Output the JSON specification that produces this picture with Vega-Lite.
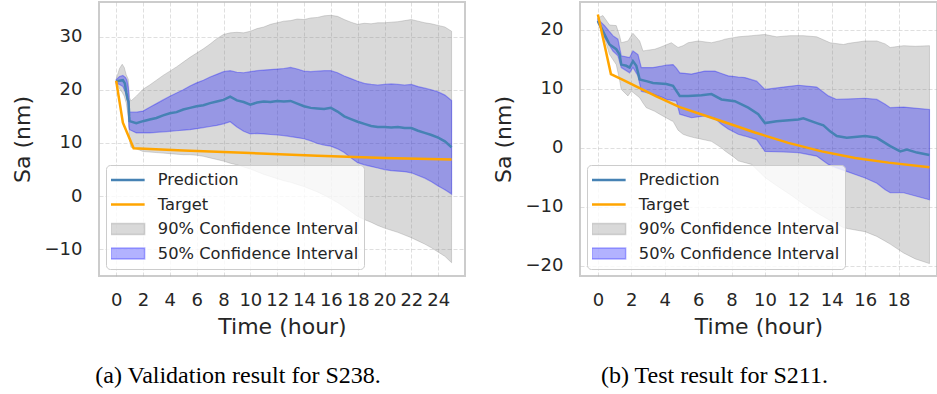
{
  "$schema": "https://vega.github.io/schema/vega-lite/v6.json",
  "background": "white",
  "padding": {"left": 10, "top": 1, "right": 0, "bottom": 0},
  "spacing": 25,
  "config": {
    "font": "DejaVu Sans",
    "view": {"stroke": "#cccccc", "strokeWidth": 2},
    "axis": {"grid": true, "gridColor": "#b0b0b0", "gridOpacity": 0.5, "gridDash": [4, 2], "gridWidth": 0.8, "domain": false, "ticks": false, "tickSize": 0, "labelFontSize": 18, "labelColor": "#262626", "labelFont": "DejaVu Sans", "titleFont": "DejaVu Sans", "titleFontSize": 22, "titleFontWeight": "normal", "titleColor": "#262626", "labelOverlap": false, "labelFlush": false, "labelBound": false, "zindex": 1},
    "axisX": {"labelPadding": 15, "titlePadding": 7},
    "axisY": {"labelPadding": 17, "titlePadding": 10},
    "legend": {"orient": "bottom-left", "offset": 7, "labelFontSize": 16.3, "labelLimit": 0, "labelColor": "#262626", "labelFont": "DejaVu Sans", "fillColor": "rgba(255,255,255,0.8)", "strokeColor": "#cccccc", "cornerRadius": 4, "padding": 5, "rowPadding": 4.5, "clipHeight": 20, "symbolSize": 1156, "labelOffset": 22, "symbolOffset": 8.5, "zindex": 2},
    "title": {"font": "Liberation Serif", "fontSize": 24, "fontWeight": "normal", "color": "#000000", "orient": "bottom", "anchor": "middle", "frame": "bounds", "offset": 27}
  },
  "datasets": {
    "a90": [
      {"t":0,"lo":21.3,"hi":22.0},{"t":0.25,"lo":20.2,"hi":24.0},{"t":0.45,"lo":19.5,"hi":24.8},{"t":0.6,"lo":18.8,"hi":24.2},{"t":0.75,"lo":17.5,"hi":22.8},{"t":0.9,"lo":15.0,"hi":22.0},{"t":1.0,"lo":10.5,"hi":18.5},{"t":1.1,"lo":9.2,"hi":17.9},{"t":1.5,"lo":8.9,"hi":18.8},{"t":2,"lo":8.4,"hi":20.1},{"t":2.5,"lo":8.3,"hi":20.9},{"t":3,"lo":8.2,"hi":21.8},{"t":3.5,"lo":8.1,"hi":22.7},{"t":4,"lo":8.0,"hi":23.5},{"t":4.5,"lo":7.9,"hi":24.3},{"t":5,"lo":7.8,"hi":25.2},{"t":5.5,"lo":7.8,"hi":26.1},{"t":6,"lo":7.7,"hi":26.9},{"t":6.5,"lo":7.5,"hi":27.7},{"t":7,"lo":7.2,"hi":28.6},{"t":7.5,"lo":6.9,"hi":29.6},{"t":8,"lo":6.6,"hi":30.4},{"t":8.5,"lo":6.2,"hi":30.7},{"t":9,"lo":5.9,"hi":30.8},{"t":9.5,"lo":5.5,"hi":30.7},{"t":10,"lo":5.1,"hi":31.0},{"t":10.5,"lo":4.6,"hi":31.5},{"t":11,"lo":4.1,"hi":31.8},{"t":11.5,"lo":3.7,"hi":32.3},{"t":12,"lo":3.3,"hi":32.6},{"t":12.5,"lo":2.9,"hi":32.9},{"t":13,"lo":2.6,"hi":33.0},{"t":13.5,"lo":2.2,"hi":33.3},{"t":14,"lo":1.8,"hi":33.2},{"t":14.5,"lo":1.3,"hi":33.5},{"t":15,"lo":0.8,"hi":33.6},{"t":15.5,"lo":0.2,"hi":33.9},{"t":16,"lo":-0.5,"hi":34.0},{"t":16.5,"lo":-1.2,"hi":33.8},{"t":17,"lo":-2.0,"hi":33.2},{"t":17.5,"lo":-2.9,"hi":32.7},{"t":18,"lo":-3.8,"hi":32.3},{"t":18.5,"lo":-4.4,"hi":32.5},{"t":19,"lo":-4.9,"hi":32.4},{"t":19.5,"lo":-5.5,"hi":32.6},{"t":20,"lo":-6.0,"hi":32.6},{"t":20.5,"lo":-6.4,"hi":32.7},{"t":21,"lo":-6.8,"hi":32.8},{"t":21.5,"lo":-7.3,"hi":33.0},{"t":22,"lo":-7.8,"hi":33.2},{"t":22.5,"lo":-8.4,"hi":32.9},{"t":23,"lo":-9.0,"hi":32.6},{"t":23.5,"lo":-9.7,"hi":32.4},{"t":24,"lo":-10.5,"hi":32.1},{"t":24.5,"lo":-11.3,"hi":31.8},{"t":25,"lo":-12.5,"hi":31.0}
    ],
    "a50": [
      {"t":0,"lo":21.2,"hi":21.9},{"t":0.25,"lo":21.0,"hi":22.5},{"t":0.5,"lo":20.6,"hi":22.7},{"t":0.7,"lo":19.5,"hi":22.3},{"t":0.8,"lo":18.5,"hi":21.8},{"t":0.9,"lo":17.0,"hi":20.5},{"t":0.95,"lo":13.0,"hi":19.0},{"t":1.0,"lo":12.5,"hi":15.8},{"t":1.5,"lo":11.9,"hi":15.8},{"t":2,"lo":11.9,"hi":16.0},{"t":2.5,"lo":11.9,"hi":16.7},{"t":3,"lo":12.0,"hi":17.4},{"t":3.5,"lo":12.1,"hi":18.1},{"t":4,"lo":12.2,"hi":18.8},{"t":4.5,"lo":12.3,"hi":19.4},{"t":5,"lo":12.4,"hi":20.0},{"t":5.5,"lo":12.5,"hi":20.7},{"t":6,"lo":12.7,"hi":21.3},{"t":6.5,"lo":12.9,"hi":21.8},{"t":7,"lo":13.1,"hi":22.4},{"t":7.5,"lo":13.3,"hi":22.9},{"t":8,"lo":13.6,"hi":23.4},{"t":8.5,"lo":14.0,"hi":23.6},{"t":9,"lo":13.0,"hi":23.3},{"t":9.5,"lo":12.2,"hi":23.2},{"t":10,"lo":11.7,"hi":23.4},{"t":10.5,"lo":11.8,"hi":23.6},{"t":11,"lo":11.7,"hi":23.7},{"t":11.5,"lo":11.6,"hi":23.8},{"t":12,"lo":11.5,"hi":23.9},{"t":12.5,"lo":11.4,"hi":24.0},{"t":13,"lo":11.2,"hi":24.2},{"t":13.5,"lo":11.0,"hi":23.9},{"t":14,"lo":10.8,"hi":23.5},{"t":14.5,"lo":10.4,"hi":23.4},{"t":15,"lo":9.9,"hi":23.5},{"t":15.5,"lo":9.6,"hi":23.6},{"t":16,"lo":9.4,"hi":23.6},{"t":16.5,"lo":8.9,"hi":23.2},{"t":17,"lo":8.2,"hi":22.6},{"t":17.5,"lo":7.2,"hi":22.1},{"t":18,"lo":6.3,"hi":21.6},{"t":18.5,"lo":5.9,"hi":21.2},{"t":19,"lo":5.6,"hi":21.0},{"t":19.5,"lo":5.3,"hi":20.9},{"t":20,"lo":5.0,"hi":21.0},{"t":20.5,"lo":4.8,"hi":21.1},{"t":21,"lo":4.7,"hi":21.0},{"t":21.5,"lo":4.6,"hi":20.9},{"t":22,"lo":4.4,"hi":21.0},{"t":22.5,"lo":3.9,"hi":20.6},{"t":23,"lo":3.4,"hi":20.3},{"t":23.5,"lo":2.7,"hi":20.0},{"t":24,"lo":1.9,"hi":19.6},{"t":24.5,"lo":1.2,"hi":19.0},{"t":25,"lo":0.4,"hi":18.0}
    ],
    "apred": [
      {"t":0,"y":21.6},{"t":0.25,"y":21.7},{"t":0.5,"y":21.8},{"t":0.65,"y":21.2},{"t":0.75,"y":19.5},{"t":0.85,"y":18.2},{"t":0.92,"y":17.8},{"t":0.97,"y":15.0},{"t":1.0,"y":14.1},{"t":1.5,"y":13.7},{"t":2,"y":14.1},{"t":2.5,"y":14.4},{"t":3,"y":14.7},{"t":3.5,"y":15.2},{"t":4,"y":15.6},{"t":4.5,"y":15.8},{"t":5,"y":16.3},{"t":5.5,"y":16.6},{"t":6,"y":16.9},{"t":6.5,"y":17.1},{"t":7,"y":17.5},{"t":7.5,"y":17.8},{"t":8,"y":18.1},{"t":8.5,"y":18.7},{"t":9,"y":18.0},{"t":9.5,"y":17.7},{"t":10,"y":17.2},{"t":10.5,"y":17.6},{"t":11,"y":17.8},{"t":11.5,"y":17.7},{"t":12,"y":17.9},{"t":12.5,"y":17.8},{"t":13,"y":17.9},{"t":13.5,"y":17.4},{"t":14,"y":16.9},{"t":14.5,"y":16.6},{"t":15,"y":16.5},{"t":15.5,"y":16.4},{"t":16,"y":16.6},{"t":16.5,"y":15.9},{"t":17,"y":15.0},{"t":17.5,"y":14.5},{"t":18,"y":14.0},{"t":18.5,"y":13.6},{"t":19,"y":13.2},{"t":19.5,"y":13.0},{"t":20,"y":13.0},{"t":20.5,"y":12.9},{"t":21,"y":13.0},{"t":21.5,"y":12.8},{"t":22,"y":12.8},{"t":22.5,"y":12.3},{"t":23,"y":11.9},{"t":23.5,"y":11.5},{"t":24,"y":11.0},{"t":24.5,"y":10.3},{"t":25,"y":9.2}
    ],
    "atgt": [
      {"t":0,"y":21.7},{"t":0.5,"y":13.8},{"t":1.3,"y":9.0},{"t":5,"y":8.6},{"t":10,"y":8.1},{"t":15,"y":7.6},{"t":20,"y":7.2},{"t":25,"y":6.9}
    ],
    "b90": [
      {"t":0,"lo":21.0,"hi":22.0},{"t":0.3,"lo":19.5,"hi":22.4},{"t":0.7,"lo":15.8,"hi":20.8},{"t":1.1,"lo":14.1,"hi":20.7},{"t":1.3,"lo":11.5,"hi":19.0},{"t":1.4,"lo":9.9,"hi":17.8},{"t":1.8,"lo":8.8,"hi":18.1},{"t":2.0,"lo":9.6,"hi":19.0},{"t":2.1,"lo":9.4,"hi":19.4},{"t":2.5,"lo":8.5,"hi":18.1},{"t":2.7,"lo":7.6,"hi":16.4},{"t":2.9,"lo":6.8,"hi":16.5},{"t":3.4,"lo":6.2,"hi":16.7},{"t":3.7,"lo":5.7,"hi":17.0},{"t":4.4,"lo":4.6,"hi":17.8},{"t":4.5,"lo":4.5,"hi":17.6},{"t":4.8,"lo":3.0,"hi":17.0},{"t":5.1,"lo":2.3,"hi":17.3},{"t":5.4,"lo":2.0,"hi":17.8},{"t":5.8,"lo":1.7,"hi":18.0},{"t":6,"lo":1.6,"hi":18.1},{"t":6.8,"lo":1.1,"hi":17.8},{"t":7.4,"lo":0.0,"hi":18.2},{"t":7.6,"lo":-0.5,"hi":18.4},{"t":8.2,"lo":-1.7,"hi":18.7},{"t":8.4,"lo":-2.2,"hi":18.8},{"t":9.2,"lo":-2.8,"hi":19.0},{"t":10,"lo":-5.0,"hi":19.2},{"t":10.7,"lo":-6.4,"hi":18.8},{"t":11.5,"lo":-7.9,"hi":19.0},{"t":12.3,"lo":-9.5,"hi":19.0},{"t":13.1,"lo":-11.0,"hi":18.8},{"t":13.9,"lo":-12.3,"hi":17.8},{"t":14.7,"lo":-13.5,"hi":17.5},{"t":15,"lo":-13.7,"hi":17.7},{"t":16,"lo":-14.2,"hi":18.1},{"t":16.7,"lo":-15.0,"hi":18.1},{"t":17.2,"lo":-15.8,"hi":17.6},{"t":17.5,"lo":-16.3,"hi":17.0},{"t":18.3,"lo":-17.8,"hi":17.3},{"t":19,"lo":-18.8,"hi":17.2},{"t":19.85,"lo":-19.6,"hi":17.3}
    ],
    "b50": [
      {"t":0,"lo":21.3,"hi":21.8},{"t":0.4,"lo":18.7,"hi":20.7},{"t":0.9,"lo":16.4,"hi":19.0},{"t":1.2,"lo":15.6,"hi":18.4},{"t":1.4,"lo":13.6,"hi":15.6},{"t":1.9,"lo":12.7,"hi":15.3},{"t":2.1,"lo":13.6,"hi":16.4},{"t":2.4,"lo":12.2,"hi":15.8},{"t":2.6,"lo":9.6,"hi":13.6},{"t":3.3,"lo":9.1,"hi":13.6},{"t":3.9,"lo":8.5,"hi":13.9},{"t":4.1,"lo":8.2,"hi":14.0},{"t":4.5,"lo":8.0,"hi":14.1},{"t":4.7,"lo":7.9,"hi":13.5},{"t":4.9,"lo":5.7,"hi":12.7},{"t":5.6,"lo":5.1,"hi":12.5},{"t":6.4,"lo":5.4,"hi":13.0},{"t":7.0,"lo":5.0,"hi":13.0},{"t":7.4,"lo":4.0,"hi":12.6},{"t":7.8,"lo":3.2,"hi":12.2},{"t":8.4,"lo":2.3,"hi":12.0},{"t":8.8,"lo":2.0,"hi":11.9},{"t":9.5,"lo":1.4,"hi":11.3},{"t":10,"lo":-0.6,"hi":9.9},{"t":11.1,"lo":-0.7,"hi":10.3},{"t":12,"lo":-0.8,"hi":10.6},{"t":13.1,"lo":-1.4,"hi":10.3},{"t":13.8,"lo":-2.8,"hi":8.8},{"t":14.3,"lo":-3.4,"hi":8.2},{"t":16,"lo":-5.1,"hi":8.4},{"t":16.7,"lo":-6.0,"hi":8.2},{"t":17.2,"lo":-7.1,"hi":7.4},{"t":17.5,"lo":-7.6,"hi":6.8},{"t":18.3,"lo":-7.6,"hi":6.9},{"t":19.85,"lo":-8.8,"hi":6.5}
    ],
    "bpred": [
      {"t":0,"y":21.5},{"t":0.4,"y":19.2},{"t":0.7,"y":17.5},{"t":1.1,"y":16.7},{"t":1.3,"y":15.8},{"t":1.4,"y":14.1},{"t":1.7,"y":13.9},{"t":1.9,"y":13.6},{"t":2.1,"y":14.7},{"t":2.3,"y":13.9},{"t":2.5,"y":11.6},{"t":2.9,"y":11.3},{"t":3.3,"y":11.0},{"t":4.1,"y":10.8},{"t":4.5,"y":10.5},{"t":4.9,"y":8.8},{"t":5.4,"y":8.8},{"t":6.2,"y":8.9},{"t":6.8,"y":9.1},{"t":7.4,"y":8.2},{"t":8.2,"y":7.9},{"t":9.0,"y":6.8},{"t":9.6,"y":5.7},{"t":10,"y":4.2},{"t":10.7,"y":4.5},{"t":12,"y":4.8},{"t":12.3,"y":5.0},{"t":13.1,"y":4.2},{"t":13.5,"y":3.8},{"t":13.9,"y":2.8},{"t":14.3,"y":2.0},{"t":14.9,"y":1.7},{"t":16,"y":2.0},{"t":16.7,"y":1.7},{"t":17.5,"y":0.3},{"t":18.1,"y":-0.6},{"t":18.5,"y":-0.3},{"t":19.1,"y":-0.8},{"t":19.85,"y":-1.2}
    ],
    "btgt": [
      {"t":0,"y":22.6},{"t":0.78,"y":12.5},{"t":1.5,"y":11.5},{"t":2.5,"y":10.1},{"t":3.5,"y":8.7},{"t":4.9,"y":6.9},{"t":6.8,"y":5.1},{"t":8,"y":3.95},{"t":9.4,"y":2.6},{"t":11.4,"y":0.85},{"t":13.4,"y":-0.6},{"t":15.4,"y":-1.7},{"t":17.4,"y":-2.5},{"t":19.85,"y":-3.3}
    ]
  },
  "hconcat": [
    {
      "width": 366,
      "height": 274,
      "title": {"text": "(a) Validation result for S238."},
      "encoding": {
        "x": {"field": "t", "type": "quantitative", "scale": {"domain": [-1.28, 26.0], "nice": false, "zero": false}, "axis": {"title": "Time (hour)", "values": [0,2,4,6,8,10,12,14,16,18,20,22,24]}}
      },
      "layer": [
        {
          "data": {"name": "a90"},
          "mark": {"type": "area", "fillOpacity": 0.3, "stroke": "#808080", "strokeOpacity": 0.3, "strokeWidth": 1},
          "encoding": {
            "y": {"field": "lo", "type": "quantitative", "scale": {"domain": [-15, 36.5], "nice": false, "zero": false}, "axis": {"title": "Sa (nm)", "values": [-10,0,10,20,30]}},
            "y2": {"field": "hi"},
            "color": {"datum": "90% Confidence Interval", "type": "nominal",
              "scale": {"domain": ["Prediction", "Target", "90% Confidence Interval", "50% Confidence Interval"], "range": ["#4682b4", "#ffa500", "#808080", "#0000ff"]},
              "legend": {"title": null, "symbolSize": 1156, "labelOffset": 22, "symbolOffset": 8.5, "clipHeight": 20, "rowPadding": 4.5, "padding": 5, "encoding": {"symbols": {
                "shape": {"value": {"expr": "datum.value === 'Prediction' || datum.value === 'Target' ? 'stroke' : 'M-1,-0.32H1V0.32H-1Z'"}},
                "size": {"value": 1156},
                "fill": {"value": {"expr": "datum.value === '90% Confidence Interval' ? '#808080' : datum.value === '50% Confidence Interval' ? '#0000ff' : 'transparent'"}},
                "fillOpacity": {"value": {"expr": "datum.value === 'Prediction' || datum.value === 'Target' ? 0 : 0.3"}},
                "stroke": {"value": {"expr": "datum.value === 'Prediction' ? '#4682b4' : datum.value === 'Target' ? '#ffa500' : datum.value === '90% Confidence Interval' ? '#808080' : '#0000ff'"}},
                "strokeOpacity": {"value": {"expr": "datum.value === 'Prediction' || datum.value === 'Target' ? 1 : 0.3"}},
                "strokeWidth": {"value": {"expr": "datum.value === 'Prediction' || datum.value === 'Target' ? 2.5 : 1.5"}},
                "opacity": {"value": 1}
              }}}
            }
          }
        },
        {
          "data": {"name": "a50"},
          "mark": {"type": "area", "fillOpacity": 0.3, "stroke": "#0000ff", "strokeOpacity": 0.3, "strokeWidth": 1.2},
          "encoding": {
            "y": {"field": "lo", "type": "quantitative"},
            "y2": {"field": "hi"},
            "color": {"datum": "50% Confidence Interval", "type": "nominal"}
          }
        },
        {
          "data": {"name": "apred"},
          "mark": {"type": "line", "strokeWidth": 2.5},
          "encoding": {
            "y": {"field": "y", "type": "quantitative"},
            "color": {"datum": "Prediction", "type": "nominal"}
          }
        },
        {
          "data": {"name": "atgt"},
          "mark": {"type": "line", "strokeWidth": 2.5},
          "encoding": {
            "y": {"field": "y", "type": "quantitative"},
            "color": {"datum": "Target", "type": "nominal"}
          }
        }
      ]
    },
    {
      "width": 357,
      "height": 274,
      "title": {"text": "(b) Test result for S211."},
      "encoding": {
        "x": {"field": "t", "type": "quantitative", "scale": {"domain": [-1.07, 20.3], "nice": false, "zero": false}, "axis": {"title": "Time (hour)", "values": [0,2,4,6,8,10,12,14,16,18]}}
      },
      "layer": [
        {
          "data": {"name": "b90"},
          "mark": {"type": "area", "fillOpacity": 0.3, "stroke": "#808080", "strokeOpacity": 0.3, "strokeWidth": 1},
          "encoding": {
            "y": {"field": "lo", "type": "quantitative", "scale": {"domain": [-21.7, 24.7], "nice": false, "zero": false}, "axis": {"title": "Sa (nm)", "values": [-20,-10,0,10,20]}},
            "y2": {"field": "hi"},
            "color": {"datum": "90% Confidence Interval", "type": "nominal",
              "scale": {"domain": ["Prediction", "Target", "90% Confidence Interval", "50% Confidence Interval"], "range": ["#4682b4", "#ffa500", "#808080", "#0000ff"]},
              "legend": {"title": null, "symbolSize": 1156, "labelOffset": 22, "symbolOffset": 8.5, "clipHeight": 20, "rowPadding": 4.5, "padding": 5, "encoding": {"symbols": {
                "shape": {"value": {"expr": "datum.value === 'Prediction' || datum.value === 'Target' ? 'stroke' : 'M-1,-0.32H1V0.32H-1Z'"}},
                "size": {"value": 1156},
                "fill": {"value": {"expr": "datum.value === '90% Confidence Interval' ? '#808080' : datum.value === '50% Confidence Interval' ? '#0000ff' : 'transparent'"}},
                "fillOpacity": {"value": {"expr": "datum.value === 'Prediction' || datum.value === 'Target' ? 0 : 0.3"}},
                "stroke": {"value": {"expr": "datum.value === 'Prediction' ? '#4682b4' : datum.value === 'Target' ? '#ffa500' : datum.value === '90% Confidence Interval' ? '#808080' : '#0000ff'"}},
                "strokeOpacity": {"value": {"expr": "datum.value === 'Prediction' || datum.value === 'Target' ? 1 : 0.3"}},
                "strokeWidth": {"value": {"expr": "datum.value === 'Prediction' || datum.value === 'Target' ? 2.5 : 1.5"}},
                "opacity": {"value": 1}
              }}}
            }
          }
        },
        {
          "data": {"name": "b50"},
          "mark": {"type": "area", "fillOpacity": 0.3, "stroke": "#0000ff", "strokeOpacity": 0.3, "strokeWidth": 1.2},
          "encoding": {
            "y": {"field": "lo", "type": "quantitative"},
            "y2": {"field": "hi"},
            "color": {"datum": "50% Confidence Interval", "type": "nominal"}
          }
        },
        {
          "data": {"name": "bpred"},
          "mark": {"type": "line", "strokeWidth": 2.5},
          "encoding": {
            "y": {"field": "y", "type": "quantitative"},
            "color": {"datum": "Prediction", "type": "nominal"}
          }
        },
        {
          "data": {"name": "btgt"},
          "mark": {"type": "line", "strokeWidth": 2.5},
          "encoding": {
            "y": {"field": "y", "type": "quantitative"},
            "color": {"datum": "Target", "type": "nominal"}
          }
        }
      ]
    }
  ],
  "resolve": {"scale": {"color": "independent"}, "legend": {"color": "independent"}}
}
